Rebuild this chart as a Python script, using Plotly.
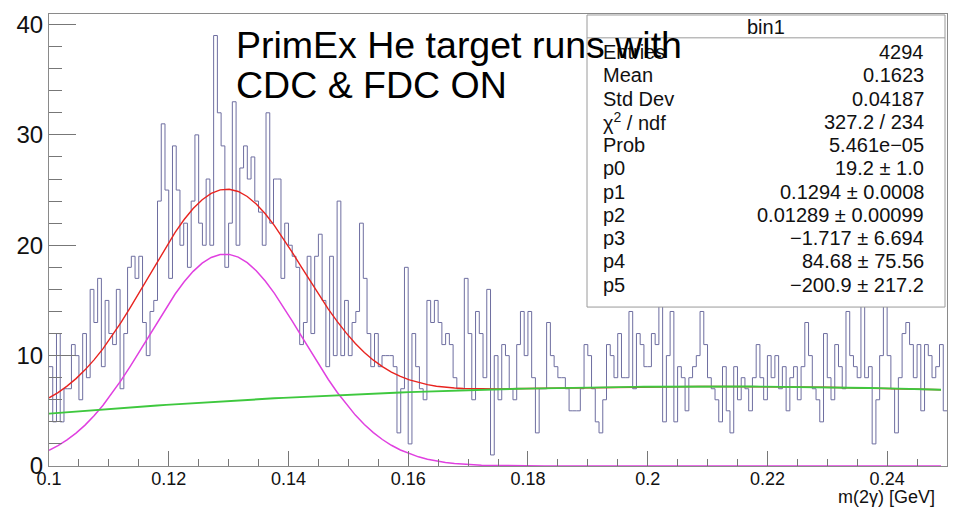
import numpy as np
import plotly.graph_objects as go

# ---- histogram "bin1": m(2gamma), 240 bins between 0.1 and 0.25 GeV ----
x_lo, x_hi = 0.1, 0.25
counts = [
    9, 4, 12, 4, 7, 7, 11, 10, 6, 12,
    8, 16, 13, 17, 9, 15, 12, 11, 16, 7,
    12, 18, 19, 17, 19, 13, 10, 14, 15, 24,
    31, 25, 17, 29, 25, 20, 22, 18, 24, 30,
    22, 20, 26, 20, 39, 32, 29, 18, 22, 33,
    20, 27, 29, 26, 28, 24, 23, 20, 32, 22,
    26, 26, 17, 22, 20, 19, 18, 11, 13, 19,
    12, 19, 21, 15, 9, 19, 10, 24, 10, 15,
    10, 13, 14, 22, 17, 12, 9, 12, 9, 10,
    10, 10, 9, 3, 7, 18, 2, 12, 9, 7,
    6, 15, 13, 15, 13, 11, 12, 11, 8, 7,
    7, 17, 12, 6, 14, 12, 8, 16, 1, 10,
    6, 11, 10, 7, 6, 11, 14, 10, 14, 8,
    3, 7, 7, 13, 10, 9, 8, 8, 7, 5,
    5, 5, 7, 11, 10, 7, 4, 3, 6, 11,
    10, 8, 12, 8, 8, 14, 7, 12, 11, 9,
    9, 12, 11, 15, 4, 10, 14, 4, 9, 8,
    5, 8, 9, 10, 14, 11, 8, 7, 6, 4,
    9, 5, 3, 9, 6, 8, 7, 5, 8, 11,
    8, 6, 10, 8, 10, 7, 9, 5, 8, 9,
    6, 9, 13, 10, 7, 6, 4, 12, 8, 6,
    11, 9, 7, 14, 10, 9, 8, 17, 8, 9,
    2, 6, 10, 16, 10, 7, 3, 8, 12, 13,
    11, 8, 11, 5, 11, 10, 8, 9, 11, 5,
]

# fit: gaus(p0,p1,p2) + pol2(p3,p4,p5)
fit_params = [19.2, 0.1294, 0.01289, -1.717, 84.68, -200.9]
fit_x_hi = 0.249

stat_title = "bin1"
stat_labels = ["Entries", "Mean", "Std Dev", "χ<sup>2</sup> / ndf", "Prob",
               "p0", "p1", "p2", "p3", "p4", "p5"]
stat_values = ["4294", "0.1623", "0.04187", "327.2 / 234", "5.461e−05",
               "19.2 ± 1.0", "0.1294 ± 0.0008", "0.01289 ± 0.00099",
               "−1.717 ± 6.694", "84.68 ± 75.56", "−200.9 ± 217.2"]

x_ticks = [0.1, 0.12, 0.14, 0.16, 0.18, 0.2, 0.22, 0.24]
x_tick_text = ["0.1", "0.12", "0.14", "0.16", "0.18", "0.2", "0.22", "0.24"]
y_ticks = [0, 10, 20, 30, 40]

# ---- canvas geometry (pixels) ----
W, H = 963, 508
L, R, T, B = 49, 16, 11, 42
PW, PH = W - L - R, H - T - B


def px(xp):
    return (xp - L) / PW


def py(yp):
    return (H - B - yp) / PH


edges = np.linspace(x_lo, x_hi, len(counts) + 1)
hist_y = list(counts) + [counts[-1]]

p0, p1, p2, p3, p4, p5 = fit_params
xf = np.linspace(x_lo, fit_x_hi, 100)
gaus = p0 * np.exp(-0.5 * ((xf - p1) / p2) ** 2)
bkg = p3 + p4 * xf + p5 * xf ** 2
total = gaus + bkg

fig = go.Figure()
fig.add_trace(go.Scatter(x=edges, y=hist_y, mode="lines", line_shape="hv",
                         line=dict(color="#6e6ea0", width=1), hoverinfo="skip"))
fig.add_trace(go.Scatter(x=xf, y=total, mode="lines",
                         line=dict(color="#e8231f", width=1.4)))
fig.add_trace(go.Scatter(x=xf, y=gaus, mode="lines",
                         line=dict(color="#e040e0", width=1.5)))
fig.add_trace(go.Scatter(x=xf, y=bkg, mode="lines",
                         line=dict(color="#3ec83e", width=1.9)))

font_fam = "Liberation Sans, Arial, Helvetica, sans-serif"

fig.update_layout(
    width=W, height=H,
    margin=dict(l=L, r=R, t=T, b=B, pad=0),
    paper_bgcolor="white", plot_bgcolor="white",
    showlegend=False,
    font=dict(family=font_fam, color="#111111"),
    xaxis=dict(range=[x_lo, x_hi], tickvals=x_ticks, ticktext=x_tick_text,
               ticks="inside", ticklen=15, tickcolor="#777777", tickwidth=1,
               ticklabelstandoff=-4,
               minor=dict(dtick=0.005, tick0=0.1, ticks="inside", ticklen=7,
                          tickcolor="#777777", showgrid=False),
               showgrid=False, zeroline=False,
               showline=True, linecolor="#8a8a8a", linewidth=1, mirror=True,
               tickfont=dict(size=18, family=font_fam, color="#111111")),
    yaxis=dict(range=[0, 40.95], tickvals=y_ticks,
               ticks="inside", ticklen=27, tickcolor="#777777", tickwidth=1,
               minor=dict(dtick=2, tick0=0, ticks="inside", ticklen=13,
                          tickcolor="#777777", showgrid=False),
               showgrid=False, zeroline=False,
               showline=True, linecolor="#8a8a8a", linewidth=1, mirror=True,
               tickfont=dict(size=24, family=font_fam, color="#111111")),
)

# statistics box
box_x0, box_x1 = px(587), px(945)
box_y0, box_y1 = py(306), py(12)
fig.add_shape(type="rect", xref="paper", yref="paper",
              x0=box_x0, x1=box_x1, y0=box_y0, y1=box_y1,
              fillcolor="white", line=dict(color="#9a9a9a", width=1),
              layer="above")
fig.add_shape(type="line", xref="paper", yref="paper",
              x0=box_x0, x1=box_x1, y0=py(35), y1=py(35),
              line=dict(color="#9a9a9a", width=1), layer="above")
fig.add_annotation(text=stat_title, xref="paper", yref="paper",
                   x=(box_x0 + box_x1) / 2, y=py(24), xanchor="center",
                   yanchor="middle", showarrow=False,
                   font=dict(size=20, family=font_fam, color="#111111"))
for k, (lab, val) in enumerate(zip(stat_labels, stat_values)):
    yc = py(49.5 + 23.4 * k)
    fig.add_annotation(text=lab, xref="paper", yref="paper", x=px(601),
                       y=yc, xanchor="left", yanchor="middle", showarrow=False,
                       font=dict(size=20, family=font_fam, color="#111111"))
    fig.add_annotation(text=val, xref="paper", yref="paper", x=px(926),
                       y=yc, xanchor="right", yanchor="middle", showarrow=False,
                       font=dict(size=20, family=font_fam, color="#111111"))

# run description
for txt, yc in [("PrimEx He target runs with", 42.5), ("CDC & FDC ON", 82.5)]:
    fig.add_annotation(text=txt, xref="paper", yref="paper", x=px(234), y=py(yc),
                       xanchor="left", yanchor="middle", showarrow=False,
                       font=dict(size=37.5, family=font_fam, color="#000000"))

# x-axis title
fig.add_annotation(text="m(2γ) [GeV]", xref="paper", yref="paper",
                   x=px(937), y=py(497), xanchor="right", yanchor="middle",
                   showarrow=False,
                   font=dict(size=18, family=font_fam, color="#111111"))

fig.write_html("out.html")
